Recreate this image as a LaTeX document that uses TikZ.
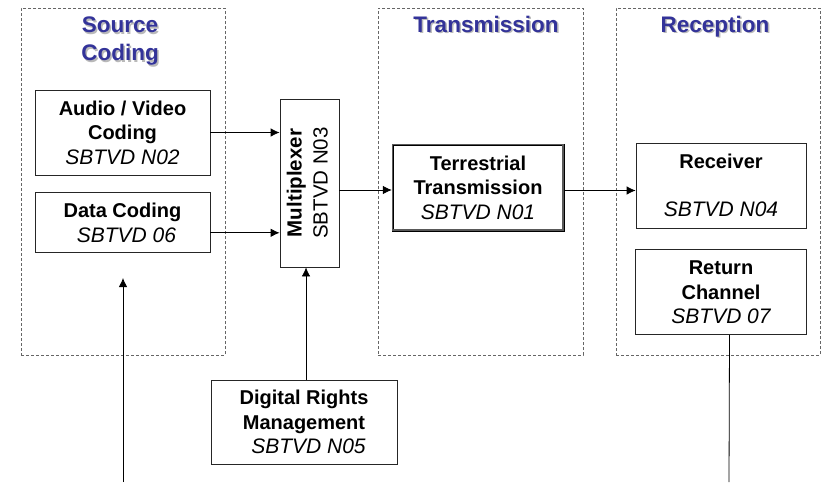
\documentclass[tikz,border=0pt]{standalone}
\usepackage{fontspec}
\setmainfont{Liberation Sans}
\usepackage{graphicx}
\usepackage{xcolor}
\usetikzlibrary{arrows.meta,positioning}

\definecolor{titleblue}{RGB}{51,51,153}
\newcommand{\shadowed}[1]{\makebox[0pt][l]{\hspace{1.5pt}\raisebox{-1.5pt}{\color{gray!55}#1}}#1}
\newcommand{\code}[1]{{\fontsize{21}{24.5}\selectfont\itshape #1}}

\begin{document}
\begin{tikzpicture}[
    x=1pt, y=-1pt,
    node distance=17pt,
    group/.style={draw=gray!80!black,dash pattern=on 3pt off 2pt,line width=0.8pt,minimum width=204pt,minimum height=347pt,inner sep=0pt},
    heading/.style={align=center,inner sep=0pt,font=\fontsize{22.5}{28}\selectfont\bfseries,text=titleblue},
    box/.style={draw=black!85,line width=0.8pt,fill=white,align=center,inner sep=0pt,font=\fontsize{20}{24.5}\selectfont,minimum width=175pt,minimum height=85pt},
    arrow/.style={-{Latex[length=9pt,width=8.5pt]},line width=0.8pt}
]
\path[use as bounding box,fill=white] (0,0) rectangle (821,482);

% dashed areas
\node[group] (source) at (123,181.5) {};
\node[group,minimum width=205pt] (trans) at (480.5,181.5) {};
\node[group] (recep) at (718,181.5) {};
\node[heading] (sourcetitle) at (120,42) {\shadowed{Source}\\\shadowed{Coding}};
\node[heading,anchor=base] (transtitle) at (486,32) {\shadowed{Transmission}};
\node[heading,anchor=base] (receptitle) at (715,32) {\shadowed{Reception}};

% blocks
\node[box] (av) at (122.5,132.5) {\textbf{Audio / Video}\\\textbf{Coding}\\\code{SBTVD N02}};
\node[box,minimum height=60pt,below=of av] (data) {\textbf{Data Coding}\\\code{\hspace*{8pt}SBTVD 06}};
\node[box,minimum width=59pt,minimum height=168pt] (mux) at (309.5,183)
    {\rotatebox{90}{\fontsize{20.5}{26}\selectfont\begin{tabular}{@{}c@{}}\textbf{Multiplexer}\\SBTVD N03\end{tabular}}};
\node[box,draw=gray!70!black,line width=2.4pt,minimum width=170pt] (terr) at (478,187.5)
    {\textbf{Terrestrial}\\\textbf{Transmission}\\\code{SBTVD N01}};
\draw[line width=0.8pt] ([shift={(2pt,2pt)}]terr.south west) |- ([shift={(-2pt,-2pt)}]terr.north east);
\draw[line width=0.8pt] ([xshift=0.4pt]terr.north east) |- ([yshift=-0.4pt]terr.south west);
\node[box,minimum width=170pt] (recv) at (721,185.5) {\textbf{Receiver}\\[23pt]\code{SBTVD N04}};
\node[box,minimum width=171pt,below=21pt of recv] (ret) {\textbf{Return}\\\textbf{Channel}\\\code{SBTVD 07}};
\node[box,minimum width=186pt,minimum height=84pt] (drm) at (304,422)
    {\textbf{Digital Rights}\\\textbf{Management}\\\code{\hspace*{9pt}SBTVD N05}};

\coordinate (feed) at (123,482);
\coordinate (feedtip) at (123,278);
\coordinate (back) at (729,482);

% links
\draw[arrow] (av.east) -- (av.east -| mux.west);
\draw[arrow] ([yshift=-10pt]data.east) -- ([yshift=-10pt]data.east -| mux.west);
\draw[arrow] ([yshift=-7pt]mux.east) -- ([yshift=-7pt]mux.east -| terr.west);
\draw[arrow] ([yshift=-3pt]terr.east) -- ([yshift=-3pt]terr.east -| recv.west);
\draw[arrow] ([xshift=2pt]drm.north) -- ([xshift=2pt]drm.north |- mux.south);
\draw[arrow] (feed) -- (feedtip);
\draw[line width=0.8pt] ([xshift=8.5pt]ret.south) -- (back);
\end{tikzpicture}
\end{document}
